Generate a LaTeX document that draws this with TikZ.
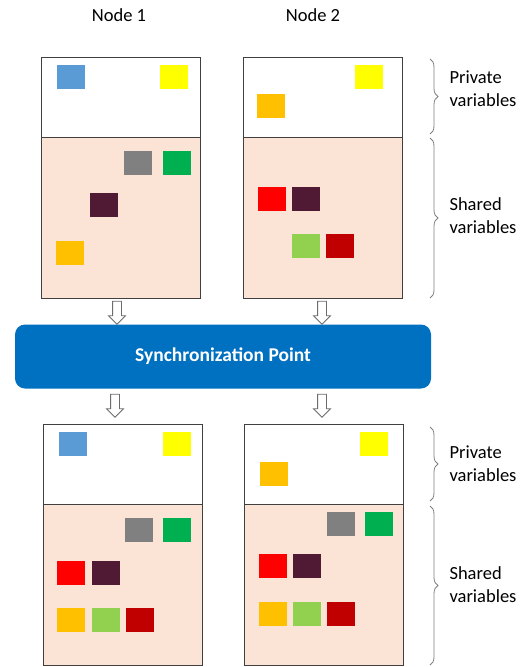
\documentclass[tikz,border=0pt]{standalone}
\usepackage{fontspec}
\setmainfont{Carlito}
\usepackage{xcolor}
\usepackage{tikz}
\usetikzlibrary{positioning,shapes.arrows,decorations.pathreplacing}
\definecolor{sharedbg}{HTML}{FBE4D5}
\definecolor{syncblue}{HTML}{0070C0}
\definecolor{edgegray}{HTML}{404040}
\definecolor{vblue}{HTML}{5B9BD5}
\definecolor{vyellow}{HTML}{FFFF00}
\definecolor{vorange}{HTML}{FFC000}
\definecolor{vgray}{HTML}{808080}
\definecolor{vgreen}{HTML}{00B050}
\definecolor{vmaroon}{HTML}{501A35}
\definecolor{vred}{HTML}{FF0000}
\definecolor{vlime}{HTML}{92D050}
\definecolor{vdkred}{HTML}{C00000}

\begin{document}
\begin{tikzpicture}[
  x=1pt, y=-1pt,
  every node/.style={font=\fontsize{18.5}{23}\selectfont},
  privpart/.style={draw=edgegray,fill=white,minimum width=159pt,minimum height=80pt,inner sep=0pt},
  sharedpart/.style={draw=edgegray,fill=sharedbg,minimum width=159pt,minimum height=161pt,inner sep=0pt},
  varbox/.style={fill=#1,minimum width=28pt,minimum height=24pt,inner sep=0pt},
  downarrow/.style={single arrow,draw=gray!85!black,fill=white,line width=0.8pt,inner sep=4pt,
    minimum height=23pt,single arrow head extend=4pt,shape border rotate=270},
  brace/.style={decorate,decoration={brace,amplitude=8pt},draw=gray,line width=0.8pt},
  side/.style={align=left,anchor=west}
]
  \useasboundingbox (0,0) rectangle (528,667);

  % headings
  \node (h1) at (119,15) {Node 1};
  \node (h2) at (313,15) {Node 2};

  % memory before sync
  \node[privpart]   (p1) at (121,97)    {};
  \node[sharedpart] (s1) at (121,217.5) {};
  \node[privpart]   (p2) at (322.5,97)  {};
  \node[sharedpart] (s2) at (322.5,217.5) {};

  \node[varbox=vblue]   (a1) at (70.5,77) {};
  \node[varbox=vyellow] (a2) at (173.5,77) {};
  \node[varbox=vgray]   (a3) at (137.5,163) {};
  \node[varbox=vgreen]  (a4) at (177,163) {};
  \node[varbox=vmaroon] (a5) at (104,205) {};
  \node[varbox=vorange] (a6) at (70,253) {};

  \node[varbox=vyellow] (b1) at (369,77) {};
  \node[varbox=vorange] (b2) at (271,106) {};
  \node[varbox=vred]    (b3) at (272,199) {};
  \node[varbox=vmaroon] (b4) at (306,199) {};
  \node[varbox=vlime]   (b5) at (306,246) {};
  \node[varbox=vdkred]  (b6) at (340,246) {};

  % sync bar
  \node[fill=syncblue,rounded corners=10pt,minimum width=416pt,minimum height=64pt,
    text=white,font=\fontsize{19.5}{23}\selectfont\bfseries] (sync) at (223,356.5) {Synchronization Point};

  \node[downarrow] (d1) at (117,310.5) {};
  \node[downarrow] (d2) at (322,310.5) {};
  \node[downarrow] (d3) at (115,403.5) {};
  \node[downarrow] (d4) at (322,403.5) {};

  % memory after sync
  \node[privpart]   (q1) at (122.5,464.5) {};
  \node[sharedpart] (t1) at (122.5,585)   {};
  \node[privpart]   (q2) at (324,464.5)   {};
  \node[sharedpart] (t2) at (324,585)     {};

  \node[varbox=vblue]   (c1) at (73,444) {};
  \node[varbox=vyellow] (c2) at (177,444) {};
  \node[varbox=vgray]   (c3) at (139,530) {};
  \node[varbox=vgreen]  (c4) at (177,530) {};
  \node[varbox=vred]    (c5) at (71,573) {};
  \node[varbox=vmaroon] (c6) at (106,573) {};
  \node[varbox=vorange] (c7) at (71,620) {};
  \node[varbox=vlime]   (c8) at (106,620) {};
  \node[varbox=vdkred]  (c9) at (140,620) {};

  \node[varbox=vyellow] (e1) at (374,444) {};
  \node[varbox=vorange] (e2) at (274,474) {};
  \node[varbox=vgray]   (e3) at (341,524) {};
  \node[varbox=vgreen]  (e4) at (379,524) {};
  \node[varbox=vred]    (e5) at (273,566) {};
  \node[varbox=vmaroon] (e6) at (307,566) {};
  \node[varbox=vorange] (e7) at (273,614) {};
  \node[varbox=vlime]   (e8) at (307,614) {};
  \node[varbox=vdkred]  (e9) at (341,614) {};

  % braces and labels
  \draw[brace] (430,59) -- (430,134);
  \draw[brace] (430,138) -- (430,298);
  \draw[brace] (430,427) -- (430,501);
  \draw[brace] (430,506) -- (430,665);

  \node[side] (l1) at (446,89)    {Private\\variables};
  \node[side] (l2) at (446,216)   {Shared\\variables};
  \node[side] (l3) at (446,463.5) {Private\\variables};
  \node[side] (l4) at (446,585)   {Shared\\variables};
\end{tikzpicture}
\end{document}
